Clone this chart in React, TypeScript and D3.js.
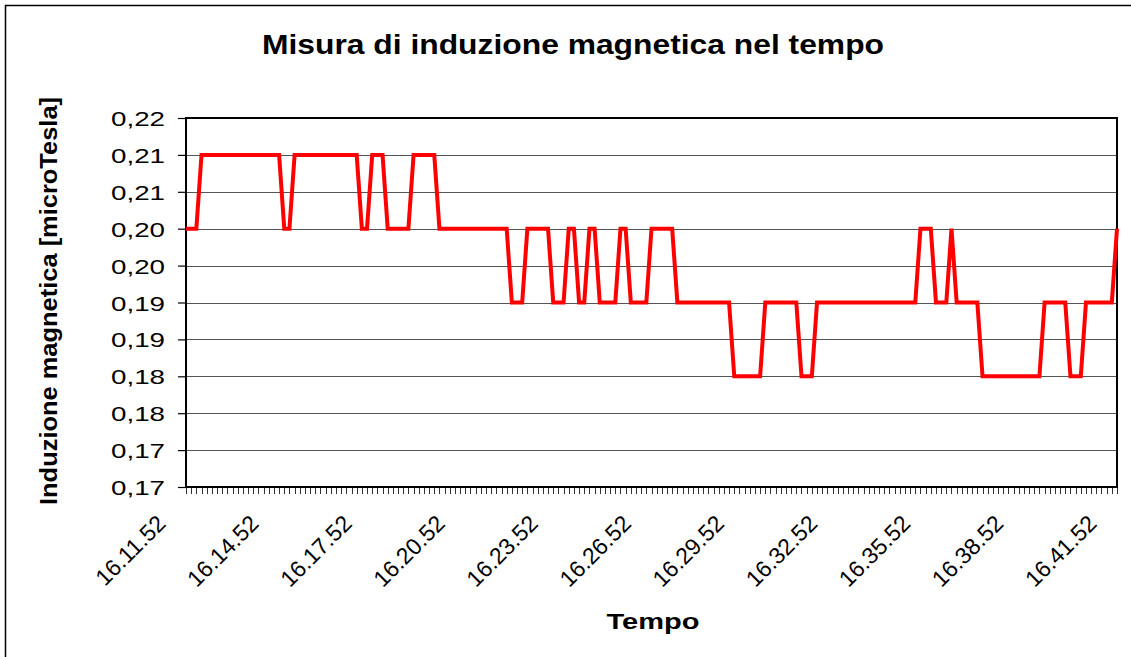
import * as d3 from "d3";
import { useEffect, useRef } from "react";

// samples every 10 s, 16.11.52 -> 16.41.52
const startTime = new Date(2000, 0, 1, 16, 11, 52);
const sampleSeconds = 10;

// induzione magnetica [microTesla]
const values = [
  0.2, 0.2, 0.2, 0.21, 0.21, 0.21, 0.21, 0.21, 0.21, 0.21,
  0.21, 0.21, 0.21, 0.21, 0.21, 0.21, 0.21, 0.21, 0.21, 0.2,
  0.2, 0.21, 0.21, 0.21, 0.21, 0.21, 0.21, 0.21, 0.21, 0.21,
  0.21, 0.21, 0.21, 0.21, 0.2, 0.2, 0.21, 0.21, 0.21, 0.2,
  0.2, 0.2, 0.2, 0.2, 0.21, 0.21, 0.21, 0.21, 0.21, 0.2,
  0.2, 0.2, 0.2, 0.2, 0.2, 0.2, 0.2, 0.2, 0.2, 0.2,
  0.2, 0.2, 0.2, 0.19, 0.19, 0.19, 0.2, 0.2, 0.2, 0.2,
  0.2, 0.19, 0.19, 0.19, 0.2, 0.2, 0.19, 0.19, 0.2, 0.2,
  0.19, 0.19, 0.19, 0.19, 0.2, 0.2, 0.19, 0.19, 0.19, 0.19,
  0.2, 0.2, 0.2, 0.2, 0.2, 0.19, 0.19, 0.19, 0.19, 0.19,
  0.19, 0.19, 0.19, 0.19, 0.19, 0.19, 0.18, 0.18, 0.18, 0.18,
  0.18, 0.18, 0.19, 0.19, 0.19, 0.19, 0.19, 0.19, 0.19, 0.18,
  0.18, 0.18, 0.19, 0.19, 0.19, 0.19, 0.19, 0.19, 0.19, 0.19,
  0.19, 0.19, 0.19, 0.19, 0.19, 0.19, 0.19, 0.19, 0.19, 0.19,
  0.19, 0.19, 0.2, 0.2, 0.2, 0.19, 0.19, 0.19, 0.2, 0.19,
  0.19, 0.19, 0.19, 0.19, 0.18, 0.18, 0.18, 0.18, 0.18, 0.18,
  0.18, 0.18, 0.18, 0.18, 0.18, 0.18, 0.19, 0.19, 0.19, 0.19,
  0.19, 0.18, 0.18, 0.18, 0.19, 0.19, 0.19, 0.19, 0.19, 0.19,
  0.2,
];

const yTicks = [0.165, 0.17, 0.175, 0.18, 0.185, 0.19, 0.195, 0.2, 0.205, 0.21, 0.215];
const labelEvery = 18;

const title = "Misura di induzione magnetica nel tempo";
const yTitle = "Induzione magnetica [microTesla]";
const xTitle = "Tempo";

const FONT = "'Liberation Sans', Arial, sans-serif";

export default function App() {
  const ref = useRef<SVGSVGElement | null>(null);
  const width = 1131;
  const height = 657;

  useEffect(() => {
    const svg = d3.select(ref.current);
    svg.selectAll("*").remove();

    const left = 186,
      right = 1117,
      top = 118,
      bottom = 487;

    const times = values.map((_, i) => d3.timeSecond.offset(startTime, i * sampleSeconds));

    const x = d3
      .scaleTime()
      .domain([times[0], times[times.length - 1]])
      .range([left, right]);

    const y = d3.scaleLinear().domain([0.165, 0.215]).range([bottom, top]);

    const fmtY = (v: number) =>
      (Math.round(v * 100 + 1e-6) / 100).toFixed(2).replace(".", ",");
    const fmtX = d3.timeFormat("%H.%M.%S");

    // chart area border
    svg
      .append("rect")
      .attr("x", 5.5)
      .attr("y", 5.5)
      .attr("width", 1140)
      .attr("height", 680)
      .attr("fill", "#fff")
      .attr("stroke", "#000")
      .attr("stroke-width", 1.5);

    // title
    svg
      .append("text")
      .attr("x", 573)
      .attr("y", 54)
      .attr("text-anchor", "middle")
      .attr("font-family", FONT)
      .attr("font-weight", "bold")
      .attr("font-size", 28)
      .attr("textLength", 622)
      .attr("lengthAdjust", "spacingAndGlyphs")
      .text(title);

    // gridlines
    svg
      .append("g")
      .selectAll("line")
      .data(yTicks)
      .enter()
      .append("line")
      .attr("x1", left)
      .attr("x2", right)
      .attr("y1", (d) => Math.round(y(d)) + 0.5)
      .attr("y2", (d) => Math.round(y(d)) + 0.5)
      .attr("stroke", "#555")
      .attr("stroke-width", 1.2);

    // y axis
    const yAxis = svg
      .append("g")
      .attr("transform", `translate(${left},0)`)
      .call(d3.axisLeft(y).tickValues(yTicks).tickSize(8).tickPadding(13).tickFormat((d) => fmtY(+d)));
    yAxis.select(".domain").remove();
    yAxis.selectAll(".tick line").attr("stroke", "#000").attr("stroke-width", 1.2);
    yAxis
      .selectAll<SVGTextElement, number>(".tick text")
      .attr("font-family", FONT)
      .attr("font-size", 21)
      .attr("fill", "#000")
      .attr("dy", "0.36em")
      .attr("textLength", 54)
      .attr("lengthAdjust", "spacingAndGlyphs");

    // x axis: a tick for every sample, a label every 18 samples
    const xg = svg.append("g").attr("transform", `translate(0,${bottom})`);
    xg.selectAll("line")
      .data(times)
      .enter()
      .append("line")
      .attr("x1", (d) => Math.round(x(d)) + 0.5)
      .attr("x2", (d) => Math.round(x(d)) + 0.5)
      .attr("y1", 0)
      .attr("y2", 7)
      .attr("stroke", "#333")
      .attr("stroke-width", 1);

    const labelTimes = times.filter((_, i) => i % labelEvery === 0);
    xg.selectAll("text")
      .data(labelTimes)
      .enter()
      .append("text")
      .attr("transform", (d) => `translate(${x(d) - 19},38) rotate(-45)`)
      .attr("text-anchor", "end")
      .attr("font-family", FONT)
      .attr("font-size", 23)
      .attr("fill", "#000")
      .text((d) => fmtX(d));

    // plot border
    svg
      .append("rect")
      .attr("x", left)
      .attr("y", top)
      .attr("width", right - left)
      .attr("height", bottom - top)
      .attr("fill", "none")
      .attr("stroke", "#000")
      .attr("stroke-width", 2);

    // series
    const line = d3
      .line<number>()
      .x((_, i) => x(times[i]))
      .y((d) => y(d));

    svg
      .append("path")
      .datum(values)
      .attr("d", line)
      .attr("fill", "none")
      .attr("stroke", "#ff0000")
      .attr("stroke-width", 4)
      .attr("stroke-linejoin", "miter");

    // axis titles
    svg
      .append("text")
      .attr("transform", "translate(57,301) rotate(-90)")
      .attr("text-anchor", "middle")
      .attr("font-family", FONT)
      .attr("font-weight", "bold")
      .attr("font-size", 24)
      .attr("textLength", 408)
      .attr("lengthAdjust", "spacingAndGlyphs")
      .text(yTitle);

    svg
      .append("text")
      .attr("x", 653)
      .attr("y", 629)
      .attr("text-anchor", "middle")
      .attr("font-family", FONT)
      .attr("font-weight", "bold")
      .attr("font-size", 22)
      .attr("textLength", 93)
      .attr("lengthAdjust", "spacingAndGlyphs")
      .text(xTitle);
  }, []);

  return (
    <svg
      ref={ref}
      width={width}
      height={height}
      style={{ position: "absolute", left: 0, top: 0, background: "#fff" }}
    >
      <title>Misura di induzione magnetica nel tempo</title>
    </svg>
  );
}
